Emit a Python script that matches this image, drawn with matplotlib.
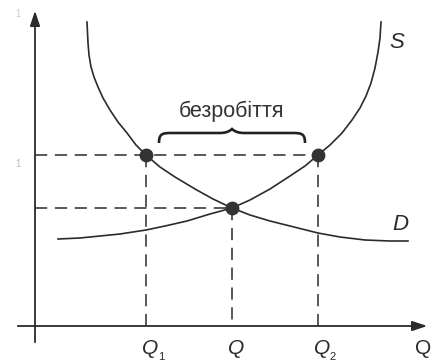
import matplotlib
matplotlib.use("Agg")
import matplotlib.pyplot as plt
from matplotlib.path import Path
from matplotlib.patches import PathPatch

H = 364
d_x = [87, 88, 89, 91, 94, 98, 103, 110, 118, 127, 136, 146, 160, 175, 195, 213, 232,
       250, 270, 290, 318, 340, 365, 390, 408]
d_y = [22, 43, 55, 67, 77, 87, 98, 110, 122, 133, 145, 155, 167, 177, 189, 199, 208,
       215, 221, 226, 233, 237, 240, 241, 241]
s_x = [58, 80, 100, 120, 146, 165, 187, 210, 232, 250, 270, 290, 305, 318, 330, 342,
       352, 360, 366, 371, 375, 378, 380, 381]
s_y = [239, 238, 236, 234, 230, 226, 221, 214, 208, 200, 189, 176, 166, 155, 145, 133,
       120, 108, 96, 83, 68, 52, 38, 22]

# Key points
pt_x = [146, 318, 232]
pt_y = [155, 155, 208]
tick_x = [146, 232, 318]
tick_main = ["Q", "Q", "Q"]
tick_sub = ["1", "", "2"]
unemp_label = "безробіття"

def fy(v):
    return H - v

fig = plt.figure(figsize=(4.34, 3.64), dpi=100)
ax = fig.add_axes([0, 0, 1, 1])
ax.set_xlim(0, 434)
ax.set_ylim(0, H)
ax.axis("off")

ink = "#2b2b2b"
dash = (0, (8, 5))
fam = "Liberation Sans"

# axes
ax.annotate("", xy=(35, fy(8)), xytext=(35, fy(345)),
            arrowprops=dict(arrowstyle="-|>,head_length=0.9,head_width=0.3", color=ink, lw=1.3))
ax.annotate("", xy=(430, fy(326)), xytext=(15, fy(326)),
            arrowprops=dict(arrowstyle="-|>,head_length=0.9,head_width=0.3", color=ink, lw=1.3))

# curves
ax.plot(d_x, [fy(v) for v in d_y], color=ink, lw=1.2, solid_joinstyle="round")
ax.plot(s_x, [fy(v) for v in s_y], color=ink, lw=1.2, solid_joinstyle="round")

# dashed guides
ax.plot([35, pt_x[1]], [fy(pt_y[0])] * 2, color=ink, lw=1.1, linestyle=dash)
ax.plot([35, pt_x[2]], [fy(pt_y[2])] * 2, color=ink, lw=1.1, linestyle=dash)
for x, y in zip(pt_x, pt_y):
    ax.plot([x, x], [fy(y), fy(326)], color=ink, lw=1.1, linestyle=dash)

# points
ax.scatter(pt_x, [fy(v) for v in pt_y], s=80, color="#333333", zorder=5)

# labels
for x, m, s in zip(tick_x, tick_main, tick_sub):
    ax.text(x + 4, fy(349), m, ha="center", va="center", fontsize=15, style="italic",
            family=fam, color=ink)
    if s:
        ax.text(x + 15, fy(357), s, ha="center", va="center", fontsize=8,
                family=fam, color=ink)
ax.text(423, fy(349), "Q", ha="center", va="center", fontsize=15,
        family=fam, color=ink)
ax.text(397, fy(42), "S", ha="center", va="center", fontsize=16, style="italic",
        family=fam, color=ink)
ax.text(400, fy(225), "D", ha="center", va="center", fontsize=16, style="italic",
        family=fam, color=ink)
ax.text(231, fy(111), unemp_label, ha="center", va="center", fontsize=15.5,
        family=fam, color="#333333")
ax.text(18, fy(164), "1", ha="center", va="center", fontsize=7, color="#bbbbbb", family=fam)
ax.text(18, fy(14), "1", ha="center", va="center", fontsize=7, color="#cccccc", family=fam)

# brace
x0, x1, xm = 159, 305, 232
yb, yt, ymid = fy(143), fy(129), fy(134)
verts = [
    (x0, yb), (x0, ymid), (x0 + 3, ymid + 1), (x0 + 12, ymid + 1),
    (xm - 12, ymid + 1), (xm - 4, ymid + 1), (xm, yt),
    (xm + 4, ymid + 1), (xm + 12, ymid + 1), (x1 - 12, ymid + 1),
    (x1 - 3, ymid + 1), (x1, ymid), (x1, yb),
]
codes = [Path.MOVETO, Path.CURVE4, Path.CURVE4, Path.CURVE4,
         Path.LINETO, Path.CURVE3, Path.CURVE3,
         Path.CURVE3, Path.CURVE3, Path.LINETO,
         Path.CURVE4, Path.CURVE4, Path.CURVE4]
ax.add_patch(PathPatch(Path(verts, codes), facecolor="none", edgecolor="#222222", lw=1.9))

fig.savefig("out.png", dpi=100)
